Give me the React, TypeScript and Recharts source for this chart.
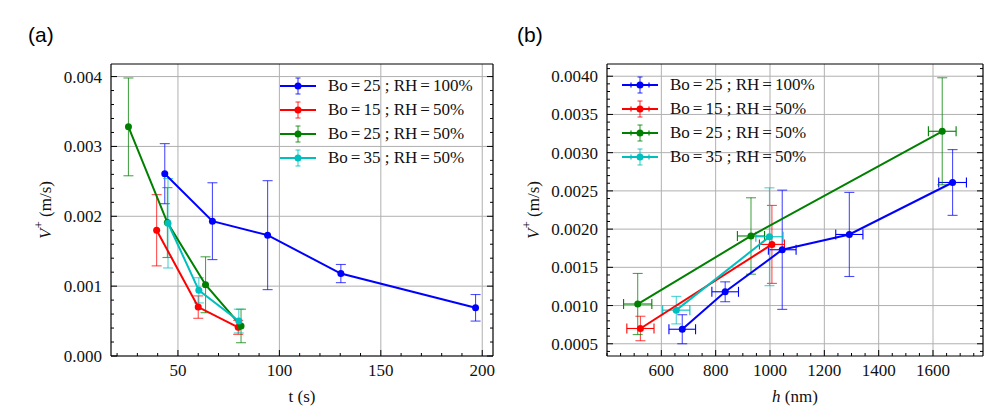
import type { ReactElement } from "react"
import {
  CartesianGrid,
  ErrorBar,
  Legend,
  Scatter,
  ScatterChart,
  XAxis,
  YAxis,
} from "recharts"

const SERIF = '"Liberation Serif", "DejaVu Serif", serif'
const FONT_SIZE = 17
const INK = "#111"

const seriesNames = ["Bo=25 ; RH=100%", "Bo=15 ; RH=50%", "Bo=25 ; RH=50%", "Bo=35 ; RH=50%"]
const seriesColors = ["#0000ff", "#ff0000", "#008000", "#00bfbf"]

// V+ (m/s) with its error, t (s) for panel (a), h (nm) for panel (b)
const tBlue = [43.5, 67, 94.2, 130.3, 196.7]
const vBlue = [0.00261, 0.00193, 0.00173, 0.00118, 0.00069]
const errBlue = [0.00043, 0.00055, 0.00078, 0.00013, 0.00019]
const hBlue = [1672, 1292, 1045, 835, 677]
const hErrBlue = [51, 50, 51, 49, 49]

const tRed = [39.5, 60, 79.7]
const vRed = [0.0018, 0.0007, 0.00041]
const errRed = [0.00051, 0.00016, 0.0001]
const hRed = [1007, 523]
const hErrRed = [46, 50]

const tGreen = [25.6, 44.8, 63.6, 81.1]
const vGreen = [0.00328, 0.00191, 0.00102, 0.00043]
const errGreen = [0.0007, 0.0005, 0.0004, 0.00024]
const hGreen = [1634, 930, 513]
const hErrGreen = [51, 50, 52]

const tCyan = [45.1, 60.3, 80]
const vCyan = [0.0019, 0.00094, 0.0005]
const errCyan = [0.00064, 0.00018, 0.00017]
const hCyan = [998, 655]
const hErrCyan = [50, 50]

// axes
const tMajor = [50, 100, 150, 200]
const vMajorA = [0, 0.001, 0.002, 0.003, 0.004]
const hMajor = [600, 800, 1000, 1200, 1400, 1600]
const vMajorB = [0.0005, 0.001, 0.0015, 0.002, 0.0025, 0.003, 0.0035, 0.004]

const tDomain = [17, 205.3]
const vDomainA = [0, 0.00418]
const hDomain = [400, 1784]
const vDomainB = [0.00034, 0.00416]

type Row = { x: number; y: number; ey: number; ex?: number }

const rowsT = (t: number[], v: number[], e: number[]): Row[] =>
  t.map((x, i) => ({ x, y: v[i], ey: e[i] }))
const rowsH = (h: number[], he: number[], v: number[], e: number[]): Row[] =>
  h.map((x, i) => ({ x, y: v[i], ey: e[i], ex: he[i] }))

const panelA = [
  rowsT(tBlue, vBlue, errBlue),
  rowsT(tRed, vRed, errRed),
  rowsT(tGreen, vGreen, errGreen),
  rowsT(tCyan, vCyan, errCyan),
]
const panelB = [
  rowsH(hBlue, hErrBlue, vBlue, errBlue),
  rowsH(hRed, hErrRed, vRed, errRed),
  rowsH(hGreen, hErrGreen, vGreen, errGreen),
  rowsH(hCyan, hErrCyan, vCyan, errCyan),
]

// major + minor tick positions inside a domain
function tickList(domain: number[], step: number) {
  const out: number[] = []
  for (let i = Math.ceil(domain[0] / step - 1e-9); i * step <= domain[1] + 1e-12; i++) {
    out.push(+(i * step).toPrecision(10))
  }
  return out
}

type Side = "bottom" | "top" | "left" | "right"

function tickRenderer(side: Side, majors: number[], fmt?: (v: number) => string) {
  return (props: any) => {
    const { x, y, payload } = props
    const v = payload.value as number
    const major = majors.some((m) => Math.abs(m - v) < 1e-9)
    const len = major ? 6 : 3
    let seg = { x1: x, y1: y, x2: x, y2: y - len }
    if (side === "top") seg = { x1: x, y1: y, x2: x, y2: y + len }
    if (side === "left") seg = { x1: x, y1: y, x2: x + len, y2: y }
    if (side === "right") seg = { x1: x, y1: y, x2: x - len, y2: y }
    return (
      <g>
        <line {...seg} stroke="#000" strokeWidth={1} />
        {major && fmt && side === "bottom" && (
          <text x={x} y={y + 20} textAnchor="middle" fontFamily={SERIF} fontSize={FONT_SIZE} fill={INK}>
            {fmt(v)}
          </text>
        )}
        {major && fmt && side === "left" && (
          <text x={x - 9} y={y + 6} textAnchor="end" fontFamily={SERIF} fontSize={FONT_SIZE} fill={INK}>
            {fmt(v)}
          </text>
        )}
      </g>
    )
  }
}

function XTitle({ viewBox, body }: any) {
  return (
    <text
      x={viewBox.x + viewBox.width / 2}
      y={viewBox.y + 46}
      textAnchor="middle"
      fontFamily={SERIF}
      fontSize={FONT_SIZE}
      fill={INK}
    >
      {body}
    </text>
  )
}

function YTitle({ viewBox, gap }: any) {
  const cx = viewBox.x + viewBox.width - gap
  const cy = viewBox.y + viewBox.height / 2
  return (
    <text
      x={cx}
      y={cy}
      transform={`rotate(-90, ${cx}, ${cy})`}
      textAnchor="middle"
      dominantBaseline="central"
      fontFamily={SERIF}
      fontSize={FONT_SIZE}
      fill={INK}
    >
      <tspan fontStyle="italic">V</tspan>
      <tspan dy={-7} fontSize={13}>+</tspan>
      <tspan dy={7}> (m/s)</tspan>
    </text>
  )
}

// math-style spacing round "=" while the text stays the same
function LegendName({ name }: { name: string }) {
  const parts = name.split("=")
  return (
    <span style={{ marginLeft: 12, whiteSpace: "pre" }}>
      {parts.map((part, k) => (
        <span key={k}>
          {k > 0 && <span style={{ margin: "0 3px" }}>=</span>}
          {part}
        </span>
      ))}
    </span>
  )
}

function LegendBox({ withXErr }: { withXErr: boolean }) {
  return (
    <div style={{ fontFamily: SERIF, fontSize: FONT_SIZE, color: INK }}>
      {seriesNames.map((name, i) => (
        <div key={name} style={{ display: "flex", alignItems: "center", height: 24 }}>
          <svg width={36} height={24}>
            <line x1={0} x2={36} y1={12} y2={12} stroke={seriesColors[i]} strokeWidth={2} />
            <line x1={18} x2={18} y1={4} y2={20} stroke={seriesColors[i]} strokeWidth={1.2} strokeOpacity={0.7} />
            <line x1={15.5} x2={20.5} y1={4} y2={4} stroke={seriesColors[i]} strokeWidth={1.2} strokeOpacity={0.7} />
            <line x1={15.5} x2={20.5} y1={20} y2={20} stroke={seriesColors[i]} strokeWidth={1.2} strokeOpacity={0.7} />
            {withXErr && (
              <>
                <line x1={9} x2={9} y1={9.5} y2={14.5} stroke={seriesColors[i]} strokeWidth={1.2} />
                <line x1={27} x2={27} y1={9.5} y2={14.5} stroke={seriesColors[i]} strokeWidth={1.2} />
              </>
            )}
            <circle cx={18} cy={12} r={3.5} fill={seriesColors[i]} />
          </svg>
          <LegendName name={name} />
        </div>
      ))}
    </div>
  )
}

type PanelProps = {
  data: Row[][]
  xDomain: number[]
  yDomain: number[]
  xMajor: number[]
  yMajor: number[]
  xStep: number
  yStep: number
  yDigits: number
  xTitle: ReactElement
  yGap: number
  margin: { top: number; right: number; bottom: number; left: number }
  legendPos: { left: number; top: number }
  withXErr: boolean
}

function Panel(p: PanelProps) {
  const xTicks = tickList(p.xDomain, p.xStep)
  const yTicks = tickList(p.yDomain, p.yStep)
  const xFmt = (v: number) => String(v)
  const yFmt = (v: number) => v.toFixed(p.yDigits)
  const frame = { stroke: "#000", strokeWidth: 1.2 }
  return (
    <ScatterChart width={504} height={420} margin={p.margin}>
      <CartesianGrid stroke="#b0b0b0" strokeWidth={1} horizontalValues={p.yMajor} verticalValues={p.xMajor} />
      <XAxis
        dataKey="x"
        type="number"
        domain={p.xDomain}
        allowDataOverflow
        ticks={xTicks}
        interval={0}
        height={40}
        tickSize={0}
        tickMargin={0}
        tickLine={false}
        axisLine={frame}
        tick={tickRenderer("bottom", p.xMajor, xFmt)}
        label={<XTitle body={p.xTitle} />}
      />
      <XAxis
        xAxisId="top"
        orientation="top"
        type="number"
        domain={p.xDomain}
        allowDataOverflow
        ticks={xTicks}
        interval={0}
        height={1}
        tickSize={0}
        tickMargin={0}
        tickLine={false}
        axisLine={frame}
        tick={tickRenderer("top", p.xMajor)}
      />
      <YAxis
        dataKey="y"
        type="number"
        domain={p.yDomain}
        allowDataOverflow
        ticks={yTicks}
        interval={0}
        width={60}
        tickSize={0}
        tickMargin={0}
        tickLine={false}
        axisLine={frame}
        tick={tickRenderer("left", p.yMajor, yFmt)}
        label={<YTitle gap={p.yGap} />}
      />
      <YAxis
        yAxisId="right"
        orientation="right"
        type="number"
        domain={p.yDomain}
        allowDataOverflow
        ticks={yTicks}
        interval={0}
        width={1}
        tickSize={0}
        tickMargin={0}
        tickLine={false}
        axisLine={frame}
        tick={tickRenderer("right", p.yMajor)}
      />
      {p.data.map((rows, i) => (
        <Scatter
          key={seriesNames[i]}
          name={seriesNames[i]}
          data={rows}
          fill={seriesColors[i]}
          line={{ stroke: seriesColors[i], strokeWidth: 2 }}
          lineType="joint"
          shape={(s: any) => <circle cx={s.cx} cy={s.cy} r={3.5} fill={seriesColors[i]} />}
          isAnimationActive={false}
        >
          <ErrorBar dataKey="ey" direction="y" width={5} stroke={seriesColors[i]} strokeWidth={1.1} strokeOpacity={0.7} />
          {p.withXErr && (
            <ErrorBar dataKey="ex" direction="x" width={5} stroke={seriesColors[i]} strokeWidth={1.1} />
          )}
        </Scatter>
      ))}
      <Legend
        layout="vertical"
        align="center"
        verticalAlign="middle"
        wrapperStyle={{ left: p.legendPos.left, top: p.legendPos.top }}
        content={() => <LegendBox withXErr={p.withXErr} />}
      />
    </ScatterChart>
  )
}

const tag = { position: "absolute" as const, top: 23, fontFamily: '"Liberation Sans", sans-serif', fontSize: 21, color: "#000" }

export default function App() {
  return (
    <div style={{ position: "absolute", left: 0, top: 0, width: 1008, height: 420, background: "#fff" }}>
      <div style={{ ...tag, left: 28 }}>(a)</div>
      <div style={{ ...tag, left: 517 }}>(b)</div>
      <div style={{ position: "absolute", left: 0, top: 0 }}>
        <Panel
          data={panelA}
          xDomain={tDomain}
          yDomain={vDomainA}
          xMajor={tMajor}
          yMajor={vMajorA}
          xStep={10}
          yStep={0.0002}
          yDigits={3}
          xTitle={<tspan>t (s)</tspan>}
          yGap={66}
          margin={{ top: 63, right: 10, bottom: 24, left: 51 }}
          legendPos={{ left: 280, top: 74 }}
          withXErr={false}
        />
      </div>
      <div style={{ position: "absolute", left: 504, top: 0 }}>
        <Panel
          data={panelB}
          xDomain={hDomain}
          yDomain={vDomainB}
          xMajor={hMajor}
          yMajor={vMajorB}
          xStep={50}
          yStep={0.0001}
          yDigits={4}
          xTitle={
            <>
              <tspan fontStyle="italic">h</tspan>
              <tspan> (nm)</tspan>
            </>
          }
          yGap={74}
          margin={{ top: 63, right: 24, bottom: 24, left: 43 }}
          legendPos={{ left: 118, top: 73 }}
          withXErr={true}
        />
      </div>
    </div>
  )
}
